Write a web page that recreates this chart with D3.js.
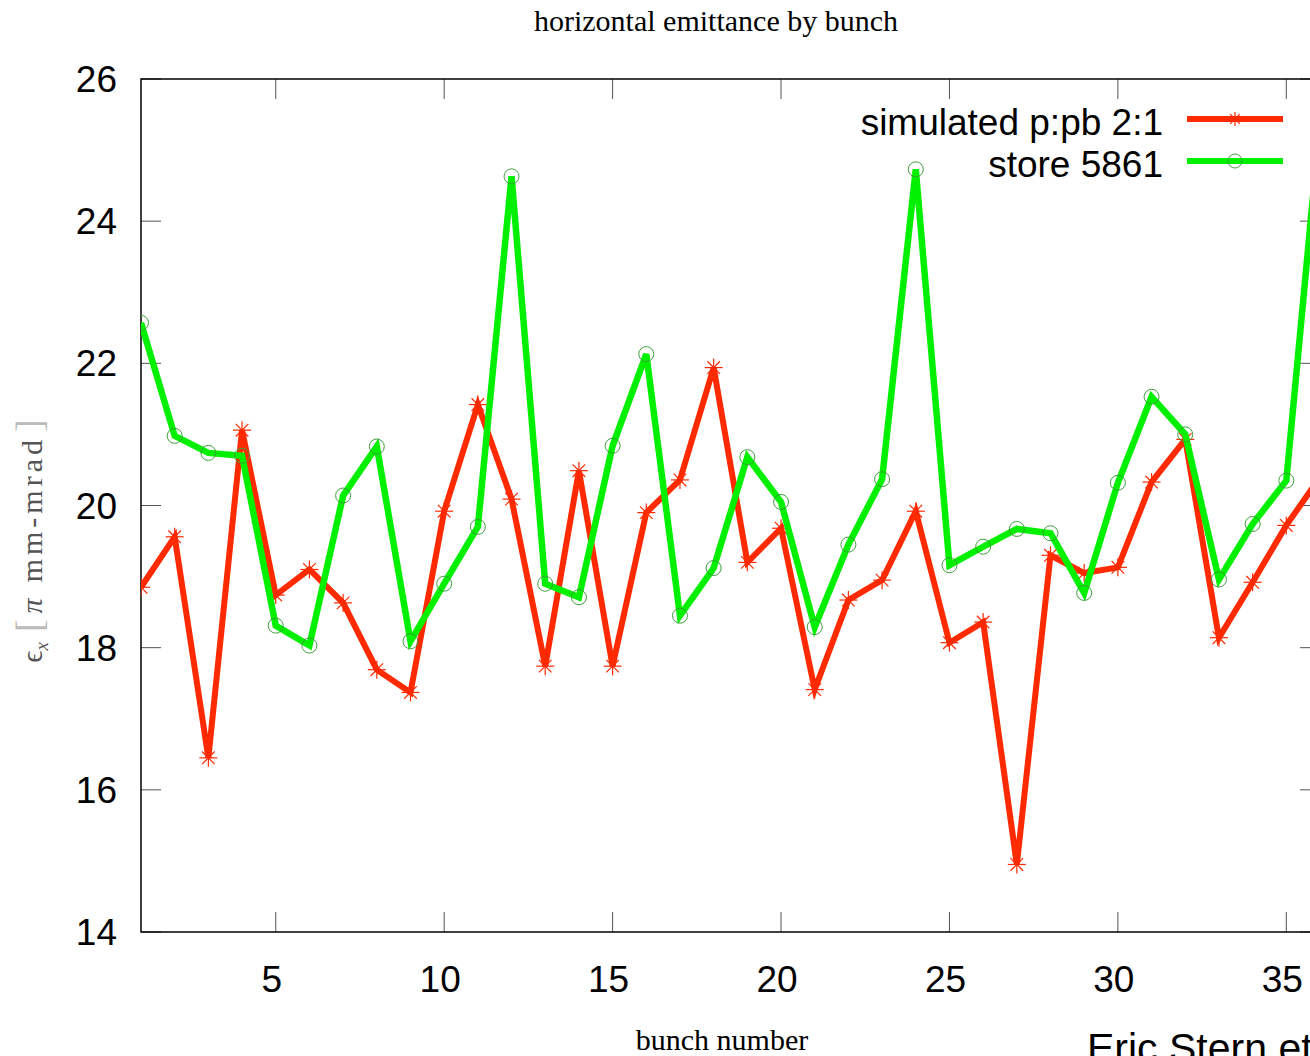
<!DOCTYPE html>
<html>
<head>
<meta charset="utf-8">
<script src="https://cdn.jsdelivr.net/npm/d3@7"></script>
<style>
  body { margin: 0; background: #fff; }
  svg { display: block; }
</style>
</head>
<body>
<div id="graph"></div>
<script>
const width = 1310;
const height = 1056;
const margin = {top: 79, right: -10, bottom: 124, left: 141};

// bunch numbers 1..36
const bunches = d3.range(1, 37);
const simulated = [18.85, 19.56, 16.45, 21.06, 18.74, 19.10, 18.63, 17.69, 17.37, 19.92,
  21.42, 20.09, 17.74, 20.49, 17.74, 19.90, 20.36, 21.94, 19.20, 19.68,
  17.41, 18.67, 18.95, 19.92, 18.07, 18.36, 14.95, 19.30, 19.05, 19.13,
  20.33, 20.93, 18.14, 18.92, 19.72, 20.40];
const store = [22.57, 20.98, 20.74, 20.70, 18.31, 18.03, 20.14, 20.83, 18.09, 18.90,
  19.70, 24.63, 18.90, 18.71, 20.84, 22.13, 18.45, 19.12, 20.68, 20.05,
  18.29, 19.45, 20.37, 24.73, 19.16, 19.42, 19.67, 19.61, 18.77, 20.32,
  21.53, 21.00, 18.96, 19.74, 20.35, 25.40];
const xTicks = [5, 10, 15, 20, 25, 30, 35];
const yTicks = [14, 16, 18, 20, 22, 24, 26];
const seriesNames = ["simulated p:pb 2:1", "store 5861"];

const innerW = width - margin.left - margin.right;
const innerH = height - margin.top - margin.bottom;
const sans = "Liberation Sans, Arial, sans-serif";
const serif = "Liberation Serif, serif";

const svg = d3.select("#graph")
  .append("svg")
  .attr("width", width)
  .attr("height", height);

const g = svg.append("g")
  .attr("transform", `translate(${margin.left},${margin.top})`);

const x = d3.scaleLinear()
  .domain([1, 36])
  .range([0, innerW]);

const y = d3.scaleLinear()
  .domain([14, 26])
  .range([innerH, 0]);

// title and axis labels
svg.append("text")
  .attr("x", 716).attr("y", 31)
  .attr("text-anchor", "middle")
  .attr("font-family", serif)
  .attr("font-size", 30)
  .text("horizontal emittance by bunch");

svg.append("text")
  .attr("x", 722).attr("y", 1050)
  .attr("text-anchor", "middle")
  .attr("font-family", serif)
  .attr("font-size", 30)
  .text("bunch number");

const ylab = svg.append("text")
  .attr("transform", "translate(42,541) rotate(-90)")
  .attr("text-anchor", "middle")
  .attr("font-family", serif)
  .attr("font-size", 30)
  .attr("fill", "#555");
ylab.append("tspan").text("\u03f5");
ylab.append("tspan").attr("font-size", 19).attr("dy", 6).attr("font-style", "italic").text("x");
ylab.append("tspan").attr("dy", -6).attr("fill", "#bbb").attr("font-size", 38).attr("dx", 10).text("[");
ylab.append("tspan").attr("font-style", "italic").attr("dx", 6).text("\u03c0");
ylab.append("tspan").attr("dx", 16).attr("letter-spacing", 4).text("mm-mrad");
ylab.append("tspan").attr("fill", "#bbb").attr("font-size", 38).attr("dx", 4).text("]");

svg.append("text")
  .attr("x", 1087).attr("y", 1062)
  .attr("font-family", sans)
  .attr("font-size", 41)
  .text("Eric Stern et al.");

// ticks, inward on all four sides
const tickLen = 20;
const tickColor = "#555";
xTicks.forEach(t => {
  g.append("line").attr("x1", x(t)).attr("x2", x(t)).attr("y1", innerH).attr("y2", innerH - tickLen)
    .attr("stroke", tickColor).attr("stroke-width", 1);
  g.append("line").attr("x1", x(t)).attr("x2", x(t)).attr("y1", 0).attr("y2", tickLen)
    .attr("stroke", tickColor).attr("stroke-width", 1);
  g.append("text").attr("x", x(t) - 4).attr("y", innerH + 60)
    .attr("text-anchor", "middle")
    .attr("font-family", sans)
    .attr("font-size", 37)
    .text(t);
});
yTicks.forEach(t => {
  g.append("line").attr("x1", 0).attr("x2", tickLen).attr("y1", y(t)).attr("y2", y(t))
    .attr("stroke", tickColor).attr("stroke-width", 1);
  g.append("line").attr("x1", innerW).attr("x2", innerW - tickLen).attr("y1", y(t)).attr("y2", y(t))
    .attr("stroke", tickColor).attr("stroke-width", 1);
  g.append("text").attr("x", -24).attr("y", y(t) + 13)
    .attr("text-anchor", "end")
    .attr("font-family", sans)
    .attr("font-size", 37)
    .text(t);
});

g.append("rect")
  .attr("width", innerW).attr("height", innerH)
  .attr("fill", "none").attr("stroke", "#000").attr("stroke-width", 1.5);

svg.append("clipPath").attr("id", "plotclip")
  .append("rect").attr("x", margin.left).attr("y", margin.top)
  .attr("width", innerW).attr("height", innerH);

const plot = svg.append("g").attr("clip-path", "url(#plotclip)")
  .append("g").attr("transform", `translate(${margin.left},${margin.top})`);

const line = d3.line()
  .x((d, i) => x(bunches[i]))
  .y(d => y(d));

const red = "#ff2a00";
const green = "#00f000";
const circleColor = "#3f9f3f";

function star(sel, cx, cy, r) {
  [[r, 0], [0, r], [r * 0.7, r * 0.7], [r * 0.7, -r * 0.7]].forEach(([dx, dy]) => {
    sel.append("line")
      .attr("x1", cx - dx).attr("y1", cy - dy)
      .attr("x2", cx + dx).attr("y2", cy + dy)
      .attr("stroke", red).attr("stroke-width", 1.2);
  });
}

plot.append("path").datum(simulated)
  .attr("fill", "none").attr("stroke", red)
  .attr("stroke-width", 6).attr("stroke-linejoin", "miter")
  .attr("d", line);
simulated.forEach((v, i) => star(plot, x(bunches[i]), y(v), 9));

plot.append("path").datum(store)
  .attr("fill", "none").attr("stroke", green)
  .attr("stroke-width", 6.5).attr("stroke-linejoin", "miter")
  .attr("d", line);
plot.selectAll(".pt").data(store).enter().append("circle")
  .attr("cx", (d, i) => x(bunches[i])).attr("cy", d => y(d))
  .attr("r", 7.5).attr("fill", "none")
  .attr("stroke", circleColor).attr("stroke-width", 1);

// legend
const legY = [119, 161];
seriesNames.forEach((name, i) => {
  svg.append("text").attr("x", 1163).attr("y", legY[i] + 16)
    .attr("text-anchor", "end")
    .attr("font-family", sans)
    .attr("font-size", 37)
    .text(name);
  svg.append("line").attr("x1", 1187).attr("x2", 1283)
    .attr("y1", legY[i]).attr("y2", legY[i])
    .attr("stroke", i === 0 ? red : green).attr("stroke-width", 6);
});
star(svg, 1235, legY[0], 7);
svg.append("circle").attr("cx", 1235).attr("cy", legY[1]).attr("r", 7)
  .attr("fill", "none").attr("stroke", circleColor).attr("stroke-width", 1);
</script>
</body>
</html>
